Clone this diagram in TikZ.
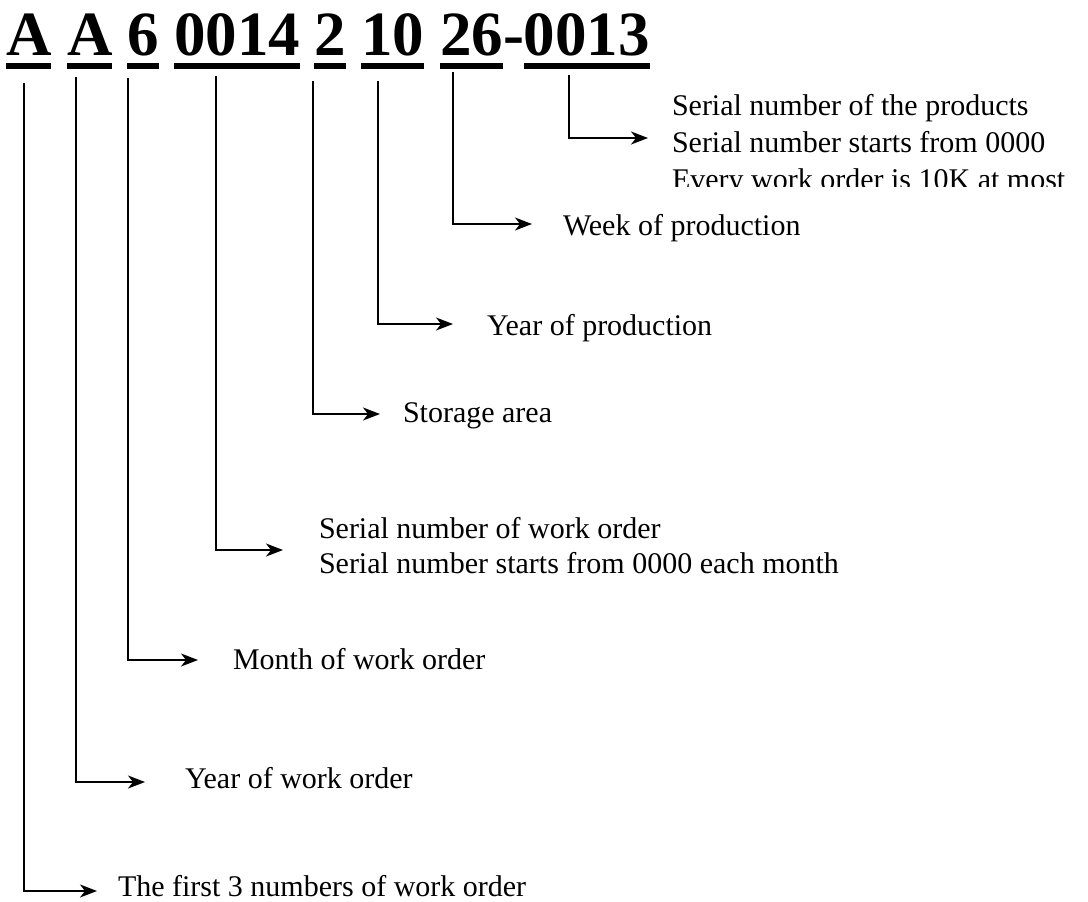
\documentclass[tikz,border=0pt]{standalone}
\usepackage{fontspec}
\setmainfont{Liberation Serif}
\usetikzlibrary{arrows.meta,calc}
\newcommand\ulword[1]{\fill ($(#1.base west)+(0,7)$) rectangle ($(#1.base east)+(0,13)$);}
\begin{document}
\begin{tikzpicture}[x=1pt,y=-1pt,
  hw/.style={anchor=base west,inner sep=0pt,outer sep=0pt,font=\fontsize{63}{63}\selectfont\bfseries},
  lbl/.style={anchor=base west,inner sep=0pt,outer sep=0pt,font=\fontsize{30}{37}\selectfont},
  conn/.style={line width=1.6pt,-{Stealth[length=17pt,width=13pt,inset=5pt]}}]
\useasboundingbox (0,0) rectangle (1088,902);
% heading
\node[hw] (w1) at (6,56) {A};
\node[hw] (w2) at (67,56) {A};
\node[hw] (w3) at (127,56) {6};
\node[hw] (w4) at (174,56) {0014};
\node[hw] (w5) at (314,56) {2};
\node[hw] (w6) at (361,56) {10};
\node[hw] (w7) at (440,56) {26};
\node[hw] (hy) at (w7.base east) {-};
\node[hw] (w8) at (hy.base east) {0013};
\ulword{w1}\ulword{w2}\ulword{w3}\ulword{w4}\ulword{w5}\ulword{w6}\ulword{w7}\ulword{w8}
% labels
\node[lbl] (l1) at (118,896) {The first 3 numbers of work order};
\node[lbl] (l2) at (185,788) {Year of work order};
\node[lbl] (l3) at (233,669) {Month of work order};
\node[lbl] (l4a) at (319,538) {Serial number of work order};
\node[lbl] (l4b) at (319,573) {Serial number starts from 0000 each month};
\node[lbl] (l5) at (403,422) {Storage area};
\node[lbl] (l6) at (487,335) {Year of production};
\node[lbl] (l7) at (563,235) {Week of production};
\node[lbl] (l8a) at (672,115) {Serial number of the products};
\node[lbl] (l8b) at (672,152) {Serial number starts from 0000};
\begin{scope}
\clip (660,160) rectangle (1088,186);
\node[lbl] (l8c) at (672,189) {Every work order is 10K at most};
\end{scope}
% connector ends
\coordinate (s1) at (24,83);   \coordinate (t1) at (97,891);
\coordinate (s2) at (76,77);   \coordinate (t2) at (145,782);
\coordinate (s3) at (128,78);  \coordinate (t3) at (198,660);
\coordinate (s4) at (216,76);  \coordinate (t4) at (283,550);
\coordinate (s5) at (313,81);  \coordinate (t5) at (380,414);
\coordinate (s6) at (378,81);  \coordinate (t6) at (453,324);
\coordinate (s7) at (453,72);  \coordinate (t7) at (532,224);
\coordinate (s8) at (569,75);  \coordinate (t8) at (648,138);
\foreach \i in {1,...,8} {\draw[conn] (s\i) |- (t\i);}
\end{tikzpicture}
\end{document}
